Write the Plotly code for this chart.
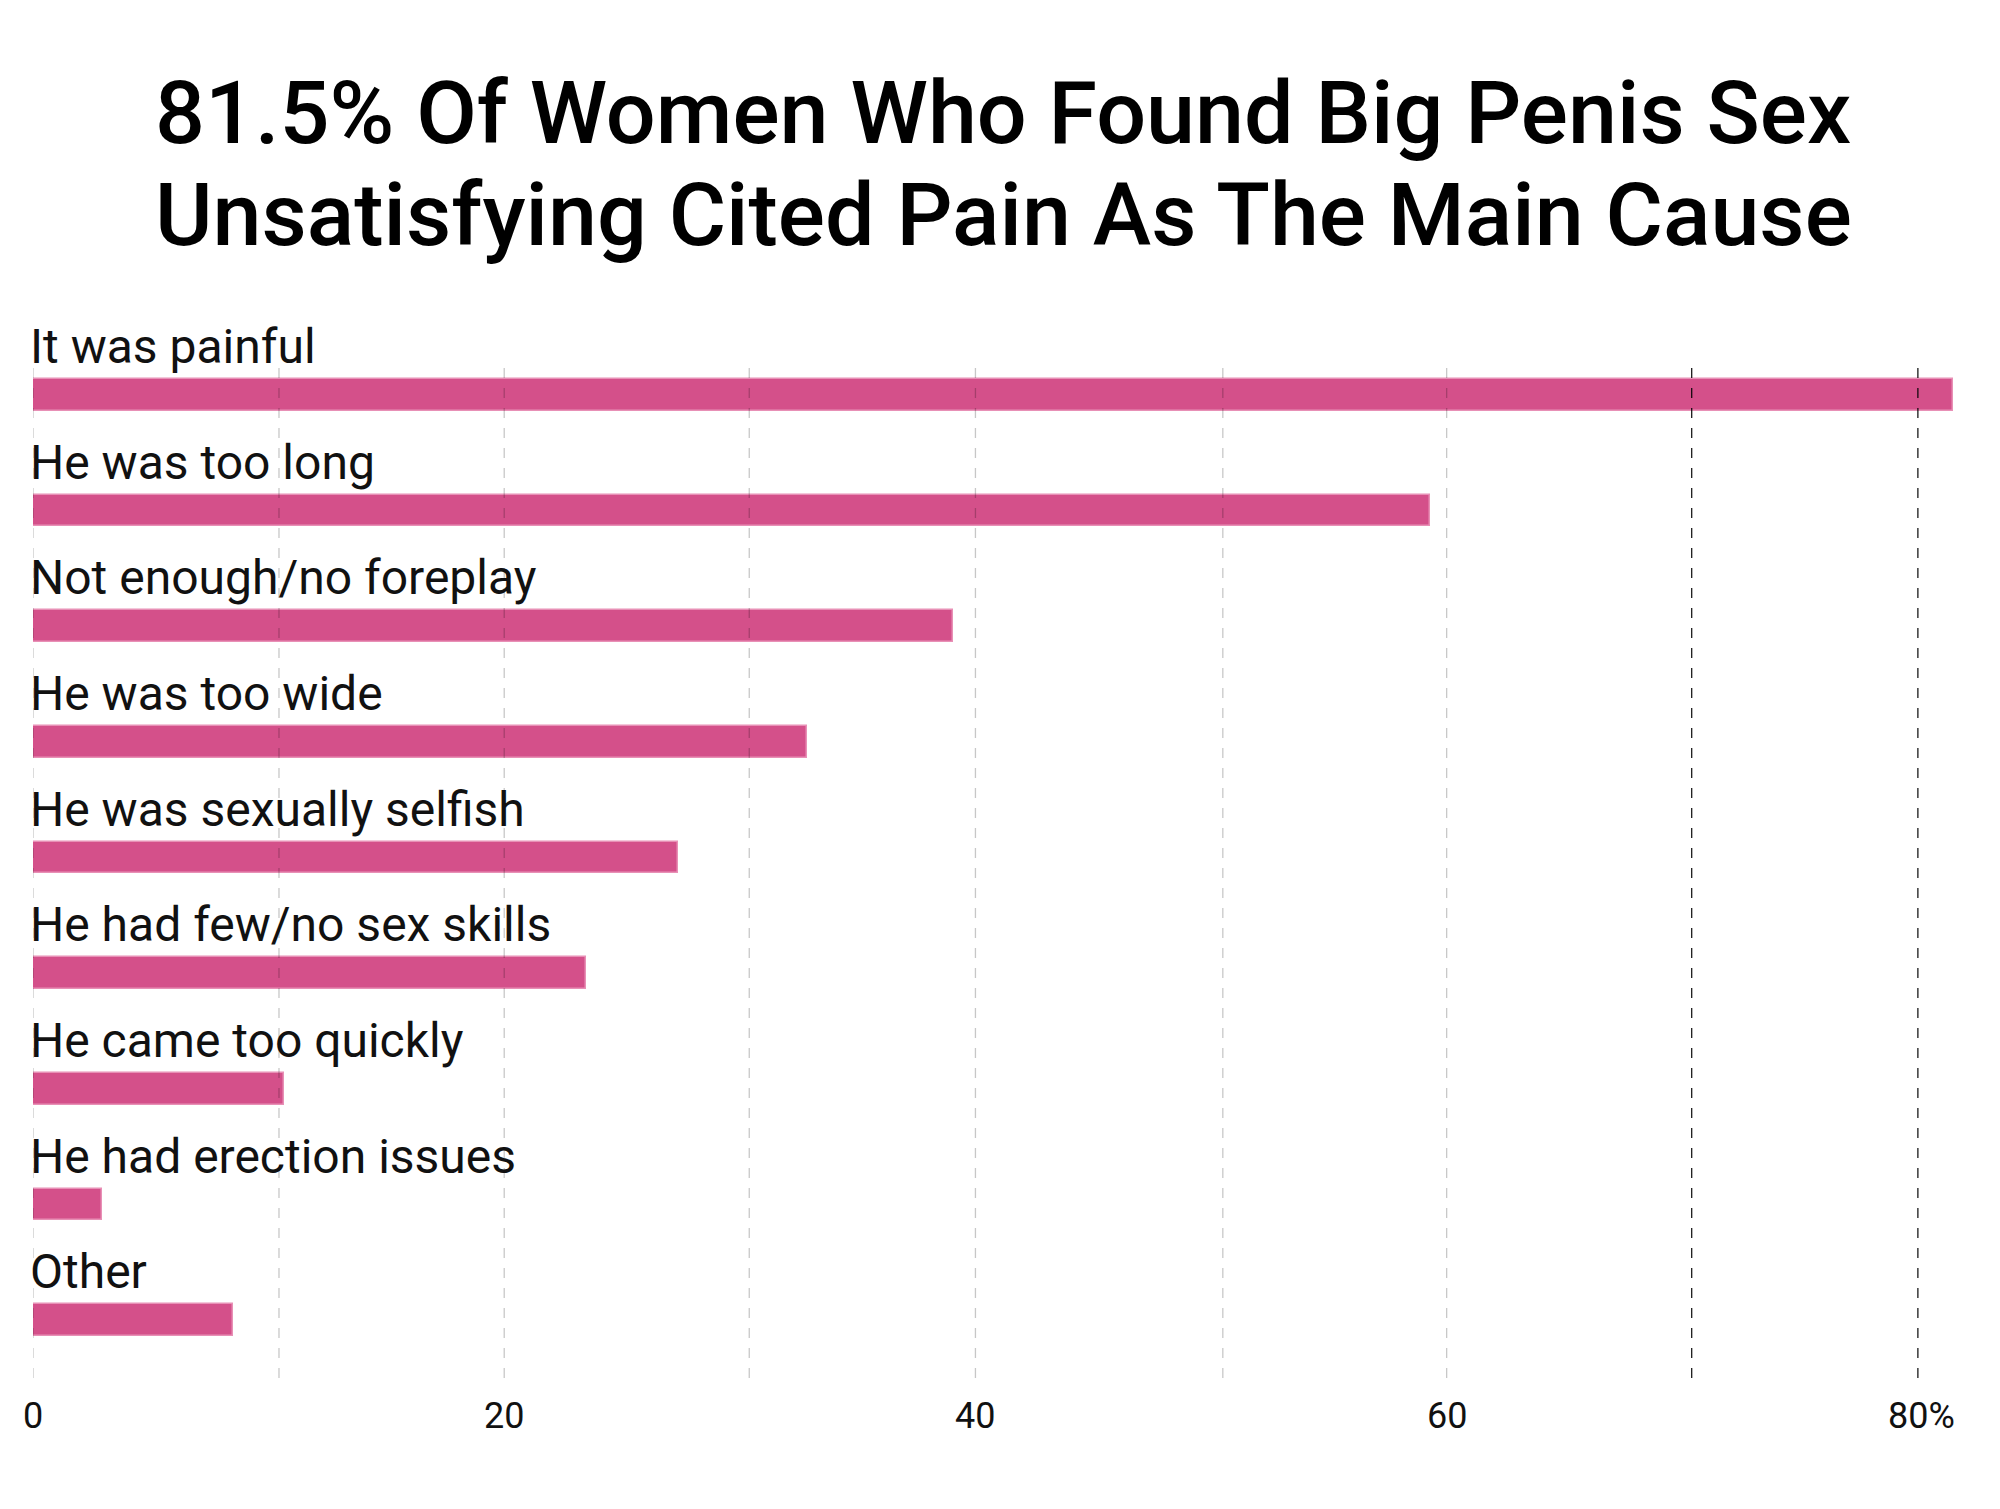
import plotly.graph_objects as go

categories = ["It was painful", "He was too long", "Not enough/no foreplay", "He was too wide",
              "He was sexually selfish", "He had few/no sex skills", "He came too quickly",
              "He had erection issues", "Other"]
values = [81.5, 59.3, 39.05, 32.85, 27.36, 23.46, 10.64, 2.93, 8.49]
tick_values = [0, 20, 40, 60, 80]
tick_labels = ["0", "20", "40", "60", "80%"]
grid_light = [0, 10.44, 20, 30.4, 40, 50.5, 60]
grid_dark = [70.4, 80]
title_lines = ["81.5% Of Women Who Found Big Penis Sex",
               "Unsatisfying Cited Pain As The Main Cause"]

BAR = "#d4508a"
FONT = "Roboto"

fig = go.Figure()
fig.add_trace(go.Bar(
    x=values, y=categories, orientation="h", width=0.272,
    marker=dict(color=BAR, line=dict(color="#e890b6", width=1.5)),
    hoverinfo="skip",
))

shapes = []
for v in grid_light:
    shapes.append(dict(type="line", xref="x", yref="paper", x0=v, x1=v, y0=0, y1=0.9705,
                       line=dict(color="rgba(0,0,0,0.22)", width=1.3, dash="10px,10px"),
                       layer="above"))
for v in grid_dark:
    shapes.append(dict(type="line", xref="x", yref="paper", x0=v, x1=v, y0=0, y1=0.9705,
                       line=dict(color="rgba(0,0,0,0.9)", width=1.3, dash="10px,10px"),
                       layer="above"))

annotations = []
for c in categories:
    annotations.append(dict(x=0, y=c, xref="x", yref="y", text=c, showarrow=False,
                            xanchor="left", yanchor="bottom", xshift=-5, yshift=18,
                            font=dict(family=FONT, size=48, color="#111111")))
for v, t in zip(tick_values, tick_labels):
    if t.endswith("%"):
        annotations.append(dict(x=v, y=0, xref="x", yref="paper", text=t, showarrow=False,
                                xanchor="left", yanchor="top", xshift=-32, yshift=-15,
                                font=dict(family=FONT, size=36, color="#111111")))
    else:
        annotations.append(dict(x=v, y=0, xref="x", yref="paper", text=t, showarrow=False,
                                xanchor="center", yanchor="top", yshift=-15,
                                font=dict(family=FONT, size=36, color="#111111")))
for line, ys in zip(title_lines, [171, 69]):
    annotations.append(dict(x=0.5, y=1, xref="paper", yref="paper", text=line,
                            showarrow=False, xanchor="center", yanchor="bottom", xshift=4, yshift=ys,
                            font=dict(family=FONT, size=88, color="#000000", weight=500)))

fig.update_layout(
    width=2000, height=1509,
    margin=dict(l=25, r=43, t=329, b=139),
    paper_bgcolor="white", plot_bgcolor="white",
    showlegend=False,
    xaxis=dict(range=[0, 82], showgrid=False, zeroline=False, showticklabels=False,
               showline=False, fixedrange=True),
    yaxis=dict(type="category", range=[8.5, -0.5], showgrid=False, zeroline=False,
               showticklabels=False, showline=False, fixedrange=True),
    shapes=shapes,
    annotations=annotations,
    bargap=0,
)

fig.write_html("out.html")
